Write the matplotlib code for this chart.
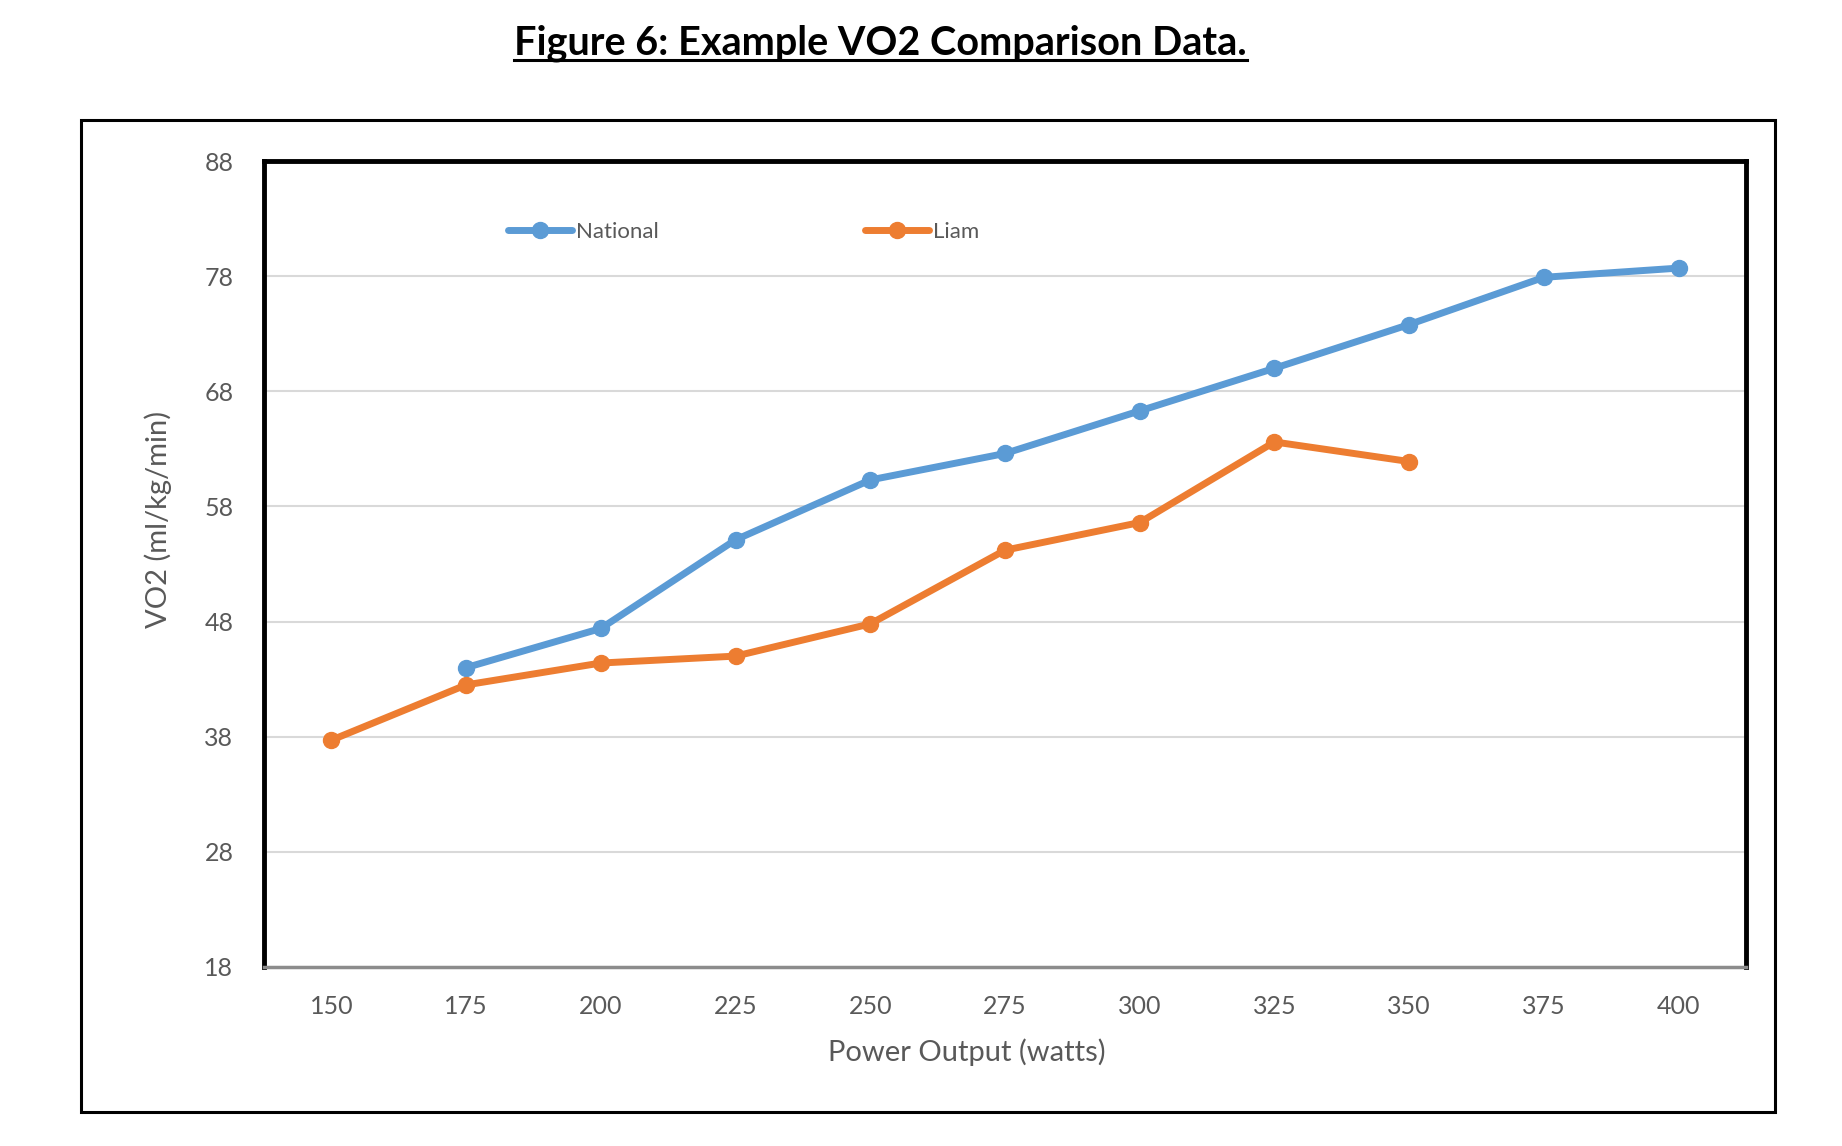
import matplotlib.pyplot as plt
from matplotlib.lines import Line2D
from matplotlib.patches import Rectangle

plt.rcParams['font.family'] = ['Lato', 'DejaVu Sans']

watts = ['150', '175', '200', '225', '250', '275', '300', '325', '350', '375', '400']
national = [None, 44.0, 47.4, 55.1, 60.3, 62.6, 66.3, 70.0, 73.8, 77.9, 78.7]
liam = [37.7, 42.5, 44.4, 45.0, 47.8, 54.2, 56.6, 63.6, 61.9, None, None]
yticks = [18, 28, 38, 48, 58, 68, 78, 88]

blue = '#5B9BD5'
orange = '#ED7D31'
grey_text = '#595959'

fig = plt.figure(figsize=(18.42, 11.46), dpi=100)
ax = fig.add_axes([0.1433, 0.1562, 0.8046, 0.7033])

xn = [i for i, v in enumerate(national) if v is not None]
yn = [v for v in national if v is not None]
xl = [i for i, v in enumerate(liam) if v is not None]
yl = [v for v in liam if v is not None]

ax.plot(xn, yn, color=blue, lw=5, marker='o', ms=11.5, label='National', solid_capstyle='round')
ax.plot(xl, yl, color=orange, lw=5, marker='o', ms=11.5, label='Liam', solid_capstyle='round')

ax.set_xlim(-0.5, len(watts) - 0.5)
ax.set_ylim(18, 88)
ax.set_xticks(range(len(watts)))
ax.set_xticklabels(watts)
ax.set_yticks(yticks)
ax.tick_params(length=0, labelsize=18, colors=grey_text)
ax.tick_params(axis='y', pad=22)
ax.tick_params(axis='x', pad=20)
for y in yticks[1:-1]:
    ax.axhline(y, color='#D9D9D9', lw=1.5, zorder=0)

for s in ['left', 'top', 'right']:
    ax.spines[s].set_linewidth(3.5)
    ax.spines[s].set_color('black')
ax.spines['bottom'].set_linewidth(2.5)
ax.spines['bottom'].set_color('#8C8C8C')

ax.set_xlabel('Power Output (watts)', fontsize=21, color=grey_text)
ax.set_ylabel('VO2 (ml/kg/min)', fontsize=21, color=grey_text)
ax.xaxis.set_label_coords(0.474, -0.088)
ax.yaxis.set_label_coords(-0.062, 0.555)

ax.legend(loc='center left', bbox_to_anchor=(0.151, 0.912), ncol=2, frameon=False,
          fontsize=16, handlelength=2.9, handletextpad=0.15, columnspacing=9.3,
          labelcolor=grey_text)

# outer frame
fig.add_artist(Rectangle((81 / 1842, 1 - 1112 / 1146), (1775 - 81) / 1842, (1112 - 120) / 1146,
                         transform=fig.transFigure, fill=False, lw=2.2, ec='black'))

# underlined title
t = fig.text(0.478, 0.962, 'Figure 6: Example VO2 Comparison Data.', ha='center', va='center',
             fontsize=28.5, fontweight='bold')
fig.canvas.draw()
bb = t.get_window_extent().transformed(fig.transFigure.inverted())
fig.add_artist(Line2D([bb.x0, bb.x1], [bb.y0 + 0.002, bb.y0 + 0.002], color='black', lw=2.2,
                      transform=fig.transFigure))

fig.savefig('out.png', dpi=100)
